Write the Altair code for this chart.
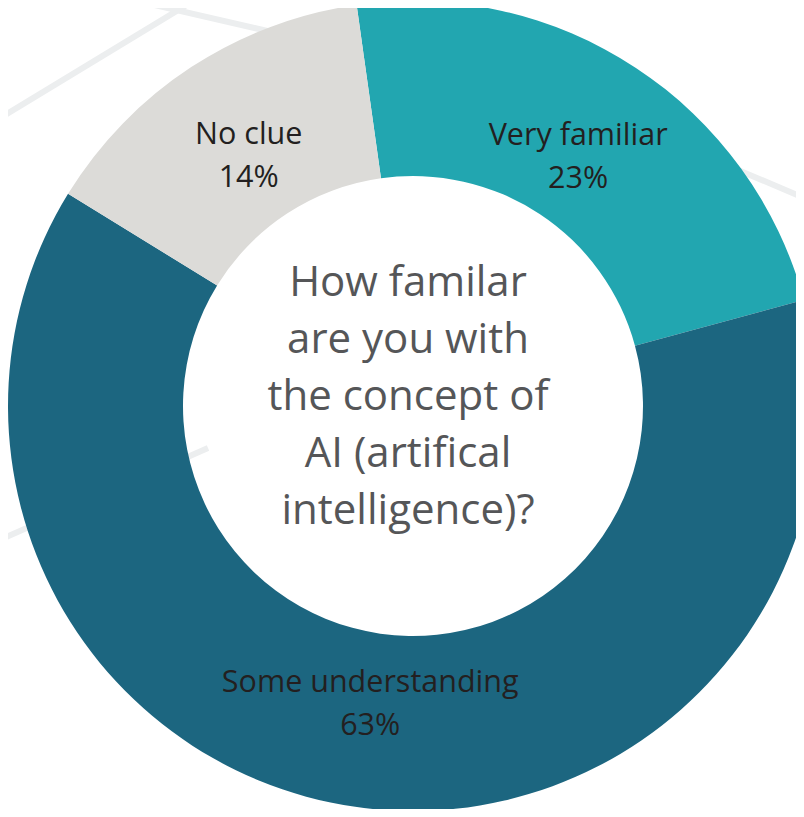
import math
import altair as alt
import pandas as pd

# ---- data ----
categories = ["Very familiar", "Some understanding", "No clue"]
values = [23, 63, 14]
order_idx = [0, 1, 2]
colors = ["#22a6b0", "#1c6680", "#dcdbd8"]
question_lines = ["How familar", "are you with", "the concept of",
                  "AI (artifical", "intelligence)?"]

df = pd.DataFrame({
    "category": categories,
    "value": values,
    "order": order_idx,
})
df["label"] = df["category"] + "\n" + df["value"].astype(str) + "%"

W, H = 788, 801
CX, CY = 405, 398
START = math.radians(-8)

theta = alt.Theta("value:Q", stack=True,
                  scale=alt.Scale(range=[START, START + 2 * math.pi]))
color = alt.Color("category:N", legend=None,
                  scale=alt.Scale(domain=categories, range=colors))

base = alt.Chart(df).encode(theta=theta, order=alt.Order("order:Q"))

arcs = base.mark_arc(innerRadius=230, outerRadius=405, stroke=None).encode(
    color=color, x=alt.value(CX), y=alt.value(CY))

labels = base.mark_text(radius=300, font="Open Sans", fontSize=30.5,
                        lineBreak="\n", lineHeight=43, color="#231f20",
                        align="center", baseline="middle", dy=-20).encode(
    text="label:N", x=alt.value(CX), y=alt.value(CY))

center = alt.Chart(pd.DataFrame({"t": ["\n".join(question_lines)]})).mark_text(
    font="Open Sans", fontSize=42, lineBreak="\n", lineHeight=57,
    color="#555658", align="center", baseline="middle").encode(
    text="t:N", x=alt.value(400), y=alt.value(275))

# decorative faint background lines
bg_lines = [
    dict(x=-8, y=110, x2=200, y2=-16),
    dict(x=90, y=-16, x2=420, y2=60),
    dict(x=560, y=90, x2=820, y2=200),
    dict(x=-20, y=537, x2=200, y2=440),
]
rules = [
    alt.Chart(pd.DataFrame({"a": [0]})).mark_rule(
        color="#eceeef", strokeWidth=6).encode(
        x=alt.value(l["x"]), y=alt.value(l["y"]),
        x2=alt.value(l["x2"]), y2=alt.value(l["y2"]))
    for l in bg_lines
]

chart = alt.layer(*rules, arcs, labels, center).properties(
    width=W, height=H, autosize=alt.AutoSizeParams(type="none"),
    padding=0, background="white"
).configure_view(stroke=None)

chart.save("out.html", embed_options={"renderer": "svg", "actions": False})
